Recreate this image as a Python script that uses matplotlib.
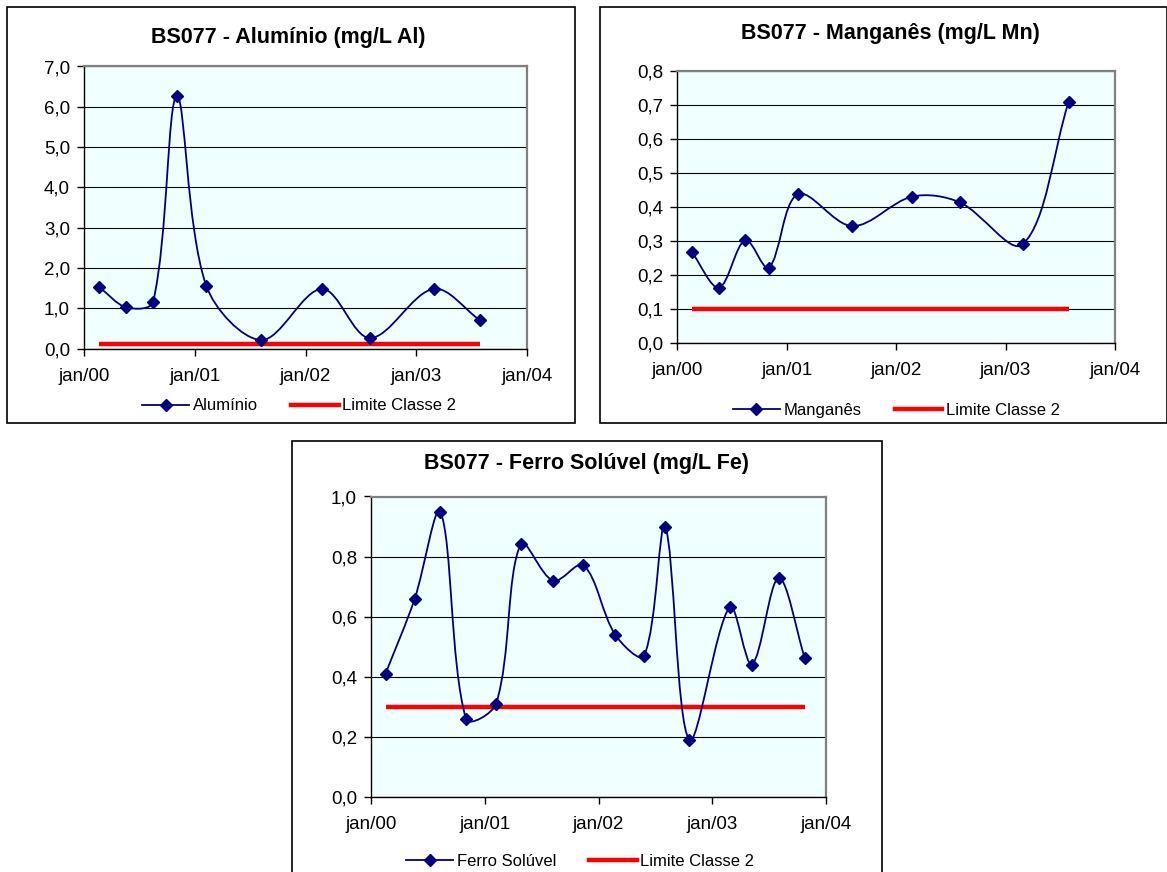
"""
BS077 - metais (Al, Mn, Fe solúvel) vs limite Classe 2.
Três painéis ao estilo Excel, com linha suavizada (Bezier tipo Excel).
"""

import numpy as np
import matplotlib

matplotlib.use("Agg")
import matplotlib.pyplot as plt  # noqa: E402
import matplotlib.dates as mdates  # noqa: E402
from matplotlib.path import Path  # noqa: E402
from matplotlib.patches import PathPatch, Rectangle  # noqa: E402
from matplotlib.lines import Line2D  # noqa: E402
from matplotlib.ticker import FuncFormatter, MultipleLocator  # noqa: E402

plt.rcParams["font.family"] = ["Liberation Sans", "DejaVu Sans"]

# ---------------------------------------------------------------------------
# Dados
# ---------------------------------------------------------------------------

dates_al_mn = np.array([
    "2000-02-19", "2000-05-20", "2000-08-16", "2000-11-02", "2001-02-07",
    "2001-08-08", "2002-02-24", "2002-08-01", "2003-02-27", "2003-07-30",
], dtype="datetime64[D]")

aluminio = [1.53, 1.02, 1.16, 6.26, 1.56, 0.21, 1.48, 0.26, 1.48, 0.70]
limite_al = 0.1

manganes = [0.267, 0.162, 0.302, 0.220, 0.437, 0.343, 0.430, 0.413, 0.289, 0.708]
limite_mn = 0.1

dates_fe = np.array([
    "2000-02-17", "2000-05-20", "2000-08-11", "2000-11-01", "2001-02-06",
    "2001-04-26", "2001-08-08", "2001-11-13", "2002-02-24", "2002-05-27",
    "2002-08-02", "2002-10-19", "2003-02-26", "2003-05-08", "2003-08-02",
    "2003-10-25",
], dtype="datetime64[D]")

ferro = [0.41, 0.658, 0.949, 0.259, 0.31, 0.842, 0.719, 0.771, 0.538, 0.469,
         0.90, 0.189, 0.632, 0.44, 0.728, 0.461]
limite_fe = 0.3

year_ticks = np.array(["2000-01-01", "2001-01-01", "2002-01-01",
                       "2003-01-01", "2004-01-01"], dtype="datetime64[D]")
year_labels = ["jan/00", "jan/01", "jan/02", "jan/03", "jan/04"]

# ---------------------------------------------------------------------------
# Estilo / layout (pixels da figura 1167x872)
# ---------------------------------------------------------------------------

W, H = 1167, 872
NAVY = "#000080"
RED = "#FF0000"
BG = "#F0FFFF"


def fig_rect(left, top, right, bottom):
    """pixels (origem no canto superior esquerdo) -> coordenadas da figura"""
    return [left / W, 1 - bottom / H, (right - left) / W, (bottom - top) / H]


def smooth_path(ax, x, y):
    """Linha suavizada tipo Excel: Bezier cúbica, tangentes (P[i+1]-P[i-1])
    escaladas pelo comprimento dos segmentos em pixels."""
    p = ax.transData.transform(np.column_stack([x, y]))
    n = len(p)
    d = np.r_[0.0, np.hypot(*np.diff(p, axis=0).T), 0.0]  # d[i] = |P[i]-P[i-1]|

    def tangent(i):
        return p[min(i + 1, n - 1)] - p[max(i - 1, 0)]

    verts = [p[0]]
    codes = [Path.MOVETO]
    for i in range(n - 1):
        seg = d[i + 1]
        c1 = p[i] + tangent(i) * seg / (d[i] + seg) / 3
        c2 = p[i + 1] - tangent(i + 1) * seg / (seg + d[i + 2]) / 3
        verts += [c1, c2, p[i + 1]]
        codes += [Path.CURVE4] * 3
    verts = ax.transData.inverted().transform(np.array(verts))
    return Path(verts, codes)


def draw_panel(fig, frame, axes_box, title, title_xy, legend_xy,
               dates, values, limit, name, ymax, ystep):
    # moldura do gráfico
    l, t, r, b = frame
    fig.add_artist(Rectangle((l / W, 1 - b / H), (r - l) / W, (b - t) / H,
                             transform=fig.transFigure, fill=False,
                             edgecolor="black", linewidth=1.2))

    ax = fig.add_axes(fig_rect(*axes_box))
    ax.set_facecolor(BG)
    ax.set_xlim(year_ticks[0], year_ticks[-1])
    ax.set_ylim(0, ymax)

    xs = mdates.date2num(dates)
    ax.plot(dates, [limit] * len(dates), color=RED, linewidth=3.2,
            solid_capstyle="butt", zorder=2)
    ax.add_patch(PathPatch(smooth_path(ax, xs, np.asarray(values, float)),
                           facecolor="none", edgecolor=NAVY, linewidth=1.3,
                           zorder=3))
    ax.plot(dates, values, linestyle="none", marker="D", markersize=6,
            color=NAVY, zorder=4)

    ax.set_xlim(year_ticks[0], year_ticks[-1])
    ax.set_xticks(year_ticks)
    ax.set_xticklabels(year_labels)
    ax.set_ylim(0, ymax)
    ax.yaxis.set_major_locator(MultipleLocator(ystep))
    ax.yaxis.set_major_formatter(
        FuncFormatter(lambda v, p: f"{v:.1f}".replace(".", ",")))

    ax.set_axisbelow(True)
    ax.yaxis.grid(True, color="black", linewidth=0.8)
    for side in ("top", "right"):
        ax.spines[side].set_color("#808080")
        ax.spines[side].set_linewidth(1.6)
    for side in ("left", "bottom"):
        ax.spines[side].set_color("black")
        ax.spines[side].set_linewidth(1.0)
    ax.tick_params(axis="both", direction="out", length=5, width=1,
                   labelsize=13.5, colors="black")
    ax.tick_params(axis="x", pad=9)
    ax.tick_params(axis="y", pad=5)

    fig.text(title_xy[0] / W, 1 - title_xy[1] / H, title, ha="center",
             va="center", fontsize=15.5, fontweight="bold")

    handles = [
        Line2D([], [], color=NAVY, linewidth=1.3, marker="D", markersize=6),
        Line2D([], [], color=RED, linewidth=3.2),
    ]
    fig.legend(handles, [name, "Limite Classe 2"], loc="center",
               bbox_to_anchor=(legend_xy[0] / W, 1 - legend_xy[1] / H),
               ncol=2, frameon=False, fontsize=12, numpoints=1,
               handlelength=2.85, handletextpad=0.2, columnspacing=2.0)
    return ax


fig = plt.figure(figsize=(W / 100, H / 100), dpi=100)

draw_panel(fig, (7, 7, 575, 423), (84, 66.5, 527, 348.5),
           "BS077 - Alumínio (mg/L Al)", (288, 38), (299, 406),
           dates_al_mn, aluminio, limite_al, "Alumínio", 7.0, 1.0)

draw_panel(fig, (600, 7, 1166.5, 423.5), (677, 71, 1115, 342.5),
           "BS077 - Manganês (mg/L Mn)", (890, 33), (896, 410),
           dates_al_mn, manganes, limite_mn, "Manganês", 0.8, 0.1)

draw_panel(fig, (292, 441, 882, 880), (371, 496.5, 826, 796.5),
           "BS077 - Ferro Solúvel (mg/L Fe)", (587, 463), (580, 861),
           dates_fe, ferro, limite_fe, "Ferro Solúvel", 1.0, 0.2)

fig.savefig("out.png", dpi=100)
